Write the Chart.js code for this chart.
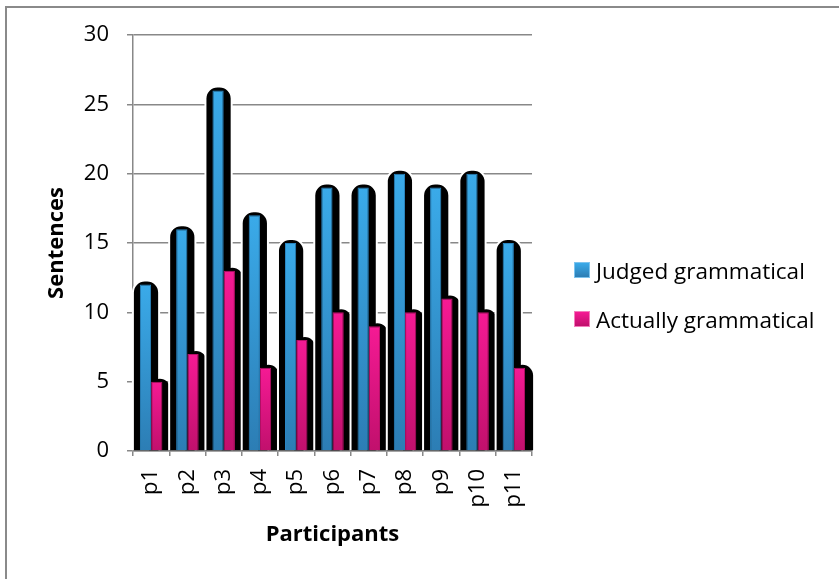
<!DOCTYPE html>
<html>
<head>
<meta charset="utf-8">
<script src="https://cdn.jsdelivr.net/npm/chart.js@4.4.0/dist/chart.umd.min.js"></script>
<style>
  html, body { margin: 0; padding: 0; background: #fff; }
  #wrap { position: relative; width: 839px; height: 579px; overflow: hidden; }
  #frame { position: absolute; left: 5px; top: 6px; width: 900px; height: 700px;
           border-left: 2px solid #8a8a8a; border-top: 2px solid #8a8a8a; }
  #chart { position: absolute; left: 0; top: 0; }
  #legend { position: absolute; left: 574px; top: 255px; font-family: "Open Sans", sans-serif; font-size: 22.5px; color: #000; }
  .item { display: flex; align-items: center; height: 30px; margin-bottom: 19px; }
  .swatch { width: 14px; height: 14px; margin-right: 6px; border: 1px solid; }
</style>
</head>
<body>
<div id="wrap">
  <div id="frame"></div>
  <canvas id="chart" width="839" height="579"></canvas>
  <div id="legend"></div>
</div>
<script>
const FONT = '"Open Sans", sans-serif';

const participants = ['p1', 'p2', 'p3', 'p4', 'p5', 'p6', 'p7', 'p8', 'p9', 'p10', 'p11'];
const judged = [12, 16, 26, 17, 15, 19, 19, 20, 19, 20, 15];
const actual = [5, 7, 13, 6, 8, 10, 9, 10, 11, 10, 6];
const yTicks = [0, 5, 10, 15, 20, 25, 30];

const series = [
  { label: 'Judged grammatical', data: judged, top: '#3aaae9', bottom: '#2c7db4', edge: '#2a86c2', swatchEdge: '#7cc3ee' },
  { label: 'Actually grammatical', data: actual, top: '#f51a94', bottom: '#c0106c', edge: '#b80f68', swatchEdge: '#f47cbc' }
];

// vertical gradient running from the top of each bar down to its base
function barFill(top, bottom) {
  return (ctx) => {
    const chart = ctx.chart;
    if (!chart.chartArea || ctx.raw == null) return top;
    const yScale = chart.scales.y;
    const y0 = yScale.getPixelForValue(ctx.raw);
    const y1 = yScale.getPixelForValue(0);
    const g = chart.ctx.createLinearGradient(0, y0, 0, y1 + 1);
    g.addColorStop(0, top);
    g.addColorStop(1, bottom);
    return g;
  };
}

function shadowPath(c, left, top, width, base) {
  const r = Math.min(12, width / 2);
  c.beginPath();
  c.moveTo(left, base);
  c.lineTo(left, top + r);
  c.arcTo(left, top, left + r, top, r);
  c.lineTo(left + width - r, top);
  c.arcTo(left + width, top, left + width, top + r, r);
  c.lineTo(left + width, base);
}

// heavy black backdrop behind each bar
const barShadow = {
  id: 'barShadow',
  beforeDatasetsDraw(chart) {
    const c = chart.ctx;
    const blue = chart.getDatasetMeta(0).data;
    const pink = chart.getDatasetMeta(1).data;
    c.save();
    c.fillStyle = '#000';
    c.strokeStyle = '#fff';
    c.lineWidth = 2;
    blue.forEach((b, i) => {
      shadowPath(c, b.x - b.width / 2 - 7, b.y - 4, b.width + 15, b.base);
      c.fill();
      c.stroke();
      const p = pink[i];
      shadowPath(c, p.x - p.width / 2 - 2, p.y - 3, p.width + 10, p.base);
      c.fill();
    });
    c.restore();
  }
};

const legendEl = document.getElementById('legend');
series.forEach(s => {
  const item = document.createElement('div');
  item.className = 'item';
  const sw = document.createElement('span');
  sw.className = 'swatch';
  sw.style.background = `linear-gradient(${s.top}, ${s.bottom})`;
  sw.style.borderColor = s.swatchEdge;
  const txt = document.createElement('span');
  txt.textContent = s.label;
  item.appendChild(sw);
  item.appendChild(txt);
  legendEl.appendChild(item);
});

new Chart(document.getElementById('chart'), {
  type: 'bar',
  data: {
    labels: participants,
    datasets: series.map(s => ({
      label: s.label,
      data: s.data,
      backgroundColor: barFill(s.top, s.bottom),
      borderColor: s.edge,
      borderWidth: 1,
      categoryPercentage: 0.62,
      barPercentage: 1.0
    }))
  },
  options: {
    responsive: false,
    animation: false,
    layout: { padding: { left: 6, top: 35, right: 307, bottom: 0 } },
    plugins: {
      legend: { display: false },
      tooltip: { enabled: false }
    },
    scales: {
      x: {
        grid: { drawOnChartArea: false, drawTicks: true, tickLength: 5, color: '#888', lineWidth: 1.5 },
        border: { color: '#888', width: 1.5 },
        ticks: { minRotation: 90, maxRotation: 90, padding: 13, color: '#000', font: { family: FONT, size: 22 } },
        title: { display: true, text: 'Participants', color: '#000',
                 font: { family: FONT, size: 22, weight: 'bold' }, padding: { top: 0, bottom: 31 } },
        afterFit: (s) => { s.height = 128; }
      },
      y: {
        min: 0,
        max: 30,
        afterBuildTicks: (s) => { s.ticks = yTicks.map(v => ({ value: v })); },
        grid: { color: '#888', lineWidth: 1.5, tickLength: 6 },
        border: { color: '#888', width: 1.5 },
        ticks: { padding: 18, color: '#000', font: { family: FONT, size: 22 } },
        title: { display: true, text: 'Sentences', color: '#000',
                 font: { family: FONT, size: 22, weight: 'bold' }, padding: { top: 38, bottom: 0 } },
        afterFit: (s) => { s.width = 127; }
      }
    }
  },
  plugins: [barShadow]
});
</script>
</body>
</html>
